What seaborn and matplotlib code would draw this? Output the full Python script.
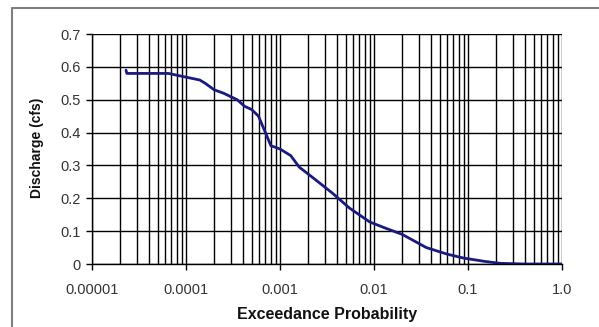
import numpy as np
import matplotlib
matplotlib.use("Agg")
import matplotlib.pyplot as plt
import seaborn as sns
from matplotlib.lines import Line2D
from matplotlib.ticker import FixedLocator, FixedFormatter, NullFormatter, LogLocator

sns.set_style("white")
plt.rcParams['font.family'] = ['Liberation Sans', 'DejaVu Sans']

# exceedance probability vs discharge
prob = [2.3e-5, 2.35e-5, 4.0e-5, 6.5e-5, 9.5e-5, 1.4e-4, 1.6e-4, 2.0e-4,
        2.5e-4, 3.5e-4, 4.2e-4, 5.0e-4, 5.9e-4, 7.0e-4, 8.0e-4, 1.0e-3,
        1.3e-3, 1.6e-3, 2.3e-3, 3.6e-3, 5.5e-3, 9.0e-3, 1.3e-2, 2.0e-2,
        3.6e-2, 6.0e-2, 9.0e-2, 0.15, 0.22, 0.4, 1.0]
discharge = [0.59, 0.58, 0.58, 0.58, 0.57, 0.56, 0.55, 0.53,
             0.52, 0.50, 0.48, 0.47, 0.45, 0.40, 0.36, 0.35,
             0.33, 0.295, 0.26, 0.216, 0.17, 0.128, 0.11, 0.09,
             0.05, 0.03, 0.018, 0.008, 0.002, 0.0, 0.0]

x_ticks = [1e-5, 1e-4, 1e-3, 1e-2, 1e-1, 1.0]
x_labels = ["0.00001", "0.0001", "0.001", "0.01", "0.1", "1.0"]
y_ticks = [0, 0.1, 0.2, 0.3, 0.4, 0.5, 0.6, 0.7]
y_labels = ["0", "0.1", "0.2", "0.3", "0.4", "0.5", "0.6", "0.7"]

fig = plt.figure(figsize=(5.99, 3.27), dpi=100)
ax = fig.add_axes([92/599, 1-264/327, 470/599, 230/327])

sns.lineplot(x=prob, y=discharge, ax=ax, color="#1a1a80", linewidth=2.0,
             sort=False, estimator=None)

ax.set_xscale("log")
ax.set_xlim(1e-5, 1.0)
ax.set_ylim(0, 0.7)
ax.xaxis.set_major_locator(FixedLocator(x_ticks))
ax.xaxis.set_major_formatter(FixedFormatter(x_labels))
ax.xaxis.set_minor_locator(LogLocator(base=10, subs=np.arange(2, 10)))
ax.xaxis.set_minor_formatter(NullFormatter())
ax.set_yticks(y_ticks)
ax.set_yticklabels(y_labels)

ax.grid(True, which="both", axis="x", color="black", linewidth=1.0)
ax.grid(True, which="major", axis="y", color="black", linewidth=1.0)
ax.set_axisbelow(True)

for s in ["left", "bottom"]:
    ax.spines[s].set_color("black")
    ax.spines[s].set_linewidth(1.0)
for s in ["top", "right"]:
    ax.spines[s].set_visible(False)

ax.tick_params(axis="x", which="major", direction="out", length=4, width=1,
               color="black", labelsize=10.5, pad=10, bottom=True)
ax.tick_params(axis="x", which="minor", length=0)
ax.tick_params(axis="y", direction="out", length=4, width=1, color="black",
               labelsize=10.5, pad=4, left=True)
for lbl in ax.get_xticklabels() + ax.get_yticklabels():
    lbl.set_color("#333333")

ax.set_xlabel("Exceedance Probability", fontsize=11.5, fontweight="bold",
              va="center", color="#111111")
ax.xaxis.set_label_coords((327 - 92) / 470, (264 - 314) / 230)
ax.set_ylabel("Discharge (cfs)", fontsize=10, fontweight="bold",
              va="center", color="#111111")
ax.yaxis.set_label_coords((37 - 92) / 470, (264 - 148) / 230)

# grey frame around the chart (left and top edges visible)
fig.add_artist(Line2D([12/599, 12/599], [0, 1-8/327], transform=fig.transFigure,
                      color="#7f7f7f", linewidth=1.5))
fig.add_artist(Line2D([12/599, 1], [1-8/327, 1-8/327], transform=fig.transFigure,
                      color="#7f7f7f", linewidth=1.5))

fig.savefig("out.png", dpi=100)
